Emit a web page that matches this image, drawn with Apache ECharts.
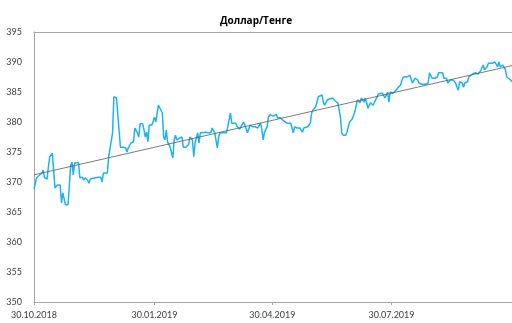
<!DOCTYPE html>
<html>
<head>
<meta charset="utf-8">
<script src="https://cdn.jsdelivr.net/npm/echarts@6/dist/echarts.min.js"></script>
<style>
  html, body { margin: 0; padding: 0; background: #fff; }
  #chart { width: 512px; height: 323px; }
</style>
</head>
<body>
<div id="chart"></div>
<script>
// USD/KZT daily rate, Oct 2018 – Oct 2019
const dates = [
  '2018-10-30','2018-11-01','2018-11-02','2018-11-05','2018-11-06','2018-11-07','2018-11-09','2018-11-10','2018-11-11','2018-11-13',
  '2018-11-14','2018-11-15','2018-11-17','2018-11-19','2018-11-20','2018-11-21','2018-11-23','2018-11-25','2018-11-27','2018-11-28',
  '2018-11-29','2018-11-30','2018-12-03','2018-12-04','2018-12-06','2018-12-07','2018-12-08','2018-12-10','2018-12-11','2018-12-12',
  '2018-12-13','2018-12-16','2018-12-18','2018-12-20','2018-12-21','2018-12-22','2018-12-23','2018-12-25','2018-12-26','2018-12-29',
  '2018-12-30','2019-01-01','2019-01-04','2019-01-06','2019-01-08','2019-01-09','2019-01-10','2019-01-12','2019-01-14','2019-01-15',
  '2019-01-17','2019-01-18','2019-01-19','2019-01-21','2019-01-22','2019-01-23','2019-01-24','2019-01-25','2019-01-26','2019-01-28',
  '2019-01-29','2019-01-30','2019-01-31','2019-02-02','2019-02-03','2019-02-05','2019-02-06','2019-02-07','2019-02-08','2019-02-09',
  '2019-02-10','2019-02-11','2019-02-13','2019-02-14','2019-02-15','2019-02-16','2019-02-18','2019-02-19','2019-02-20','2019-02-21',
  '2019-02-23','2019-02-25','2019-02-26','2019-02-28','2019-03-01','2019-03-02','2019-03-04','2019-03-05','2019-03-06','2019-03-07',
  '2019-03-10','2019-03-12','2019-03-14','2019-03-15','2019-03-16','2019-03-17','2019-03-19','2019-03-20','2019-03-21','2019-03-23',
  '2019-03-26','2019-03-27','2019-03-29','2019-03-30','2019-03-31','2019-04-02','2019-04-03','2019-04-05','2019-04-06','2019-04-08',
  '2019-04-09','2019-04-11','2019-04-12','2019-04-13','2019-04-15','2019-04-16','2019-04-17','2019-04-18','2019-04-19','2019-04-21',
  '2019-04-22','2019-04-23','2019-04-24','2019-04-26','2019-04-27','2019-04-28','2019-05-01','2019-05-03','2019-05-04','2019-05-06',
  '2019-05-08','2019-05-11','2019-05-14','2019-05-15','2019-05-16','2019-05-17','2019-05-19','2019-05-20','2019-05-21','2019-05-23',
  '2019-05-24','2019-05-25','2019-05-27','2019-05-28','2019-05-29','2019-05-30','2019-05-31','2019-06-02','2019-06-03','2019-06-04',
  '2019-06-05','2019-06-07','2019-06-08','2019-06-09','2019-06-11','2019-06-12','2019-06-15','2019-06-17','2019-06-19','2019-06-21',
  '2019-06-22','2019-06-23','2019-06-25','2019-06-26','2019-06-27','2019-06-28','2019-06-30','2019-07-01','2019-07-02','2019-07-04',
  '2019-07-05','2019-07-06','2019-07-07','2019-07-08','2019-07-09','2019-07-10','2019-07-11','2019-07-12','2019-07-14','2019-07-15',
  '2019-07-16','2019-07-17','2019-07-19','2019-07-20','2019-07-21','2019-07-23','2019-07-24','2019-07-25','2019-07-27','2019-07-28',
  '2019-07-29','2019-07-30','2019-07-31','2019-08-02','2019-08-03','2019-08-04','2019-08-06','2019-08-07','2019-08-08','2019-08-09',
  '2019-08-11','2019-08-12','2019-08-13','2019-08-15','2019-08-16','2019-08-17','2019-08-19','2019-08-20','2019-08-21','2019-08-22',
  '2019-08-23','2019-08-25','2019-08-26','2019-08-27','2019-08-28','2019-08-29','2019-08-30','2019-08-31','2019-09-01','2019-09-03',
  '2019-09-04','2019-09-05','2019-09-07','2019-09-08','2019-09-09','2019-09-10','2019-09-11','2019-09-13','2019-09-14','2019-09-15',
  '2019-09-17','2019-09-18','2019-09-19','2019-09-20','2019-09-22','2019-09-23','2019-09-24','2019-09-26','2019-09-27','2019-09-28',
  '2019-09-30','2019-10-01','2019-10-02','2019-10-03','2019-10-04','2019-10-06','2019-10-07','2019-10-08','2019-10-09','2019-10-11',
  '2019-10-12','2019-10-13','2019-10-15','2019-10-16','2019-10-17','2019-10-19','2019-10-20','2019-10-21','2019-10-22','2019-10-23',
  '2019-10-25','2019-10-26','2019-10-27','2019-10-29','2019-10-30'
];

const usdKzt = [
  368.8,370.7,370.8,371.5,372.0,370.7,370.5,372.5,374.2,374.8,
  375.0,369.0,369.5,369.5,366.5,368.2,366.2,366.2,372.8,373.3,
  371.2,373.2,373.2,370.7,370.8,370.3,370.7,370.3,369.8,370.5,
  370.2,370.7,370.8,370.8,370.0,371.5,371.2,371.5,374.2,378.2,
  384.2,384.0,375.8,375.8,375.7,375.0,375.7,376.5,376.7,379.0,
  378.2,377.5,379.7,379.7,378.7,377.5,378.3,376.7,379.5,379.5,
  379.8,380.8,380.0,382.8,382.8,381.5,377.5,377.0,378.7,376.7,
  377.0,375.8,374.0,377.0,377.8,377.0,377.3,377.0,377.5,375.8,
  375.8,376.2,377.5,377.0,374.2,376.5,378.2,376.5,378.2,378.3,
  378.3,378.2,378.2,379.0,379.0,378.2,375.7,377.5,378.2,378.2,
  378.2,378.3,381.5,379.8,379.5,379.8,379.3,378.8,379.2,380.0,
  379.5,378.2,378.3,379.5,379.2,379.0,379.2,379.5,379.0,379.8,
  378.7,377.0,378.3,379.2,380.8,381.2,381.0,381.3,380.7,380.7,
  380.3,379.8,379.8,380.0,378.2,379.2,379.0,378.7,379.0,378.3,
  379.0,378.7,379.2,379.2,379.8,381.5,382.0,382.5,383.2,384.2,
  384.2,384.5,383.2,382.8,383.7,384.0,384.0,383.5,383.2,380.8,
  378.2,377.8,377.8,378.3,379.2,380.0,380.5,380.8,381.7,383.7,
  384.0,383.2,384.0,384.0,383.3,384.0,383.2,382.3,383.2,383.3,
  382.8,383.3,384.2,384.7,384.5,384.8,384.5,384.0,385.0,383.3,
  385.0,385.0,384.8,385.2,385.3,385.7,386.2,387.0,387.5,387.8,
  387.5,387.5,387.8,386.5,386.7,387.3,387.0,386.5,386.2,386.3,
  386.2,386.3,386.5,386.5,388.2,388.3,387.3,387.5,387.3,387.5,
  388.2,388.3,388.2,387.3,387.3,387.3,386.5,387.0,386.7,387.0,
  386.5,385.8,385.3,386.7,386.5,385.8,386.5,386.7,387.5,387.8,
  388.0,388.2,388.2,388.3,388.0,388.5,389.0,389.5,388.7,389.2,
  389.8,389.5,389.8,390.0,390.0,389.2,390.0,389.2,389.2,389.5,
  388.7,387.5,387.5,387.0,386.7
];

const axisStart = '2018-10-30';
const axisEnd = '2019-10-30';
const tickDates = ['2018-10-30', '2019-01-30', '2019-04-30', '2019-07-30'];
const yTicks = { min: 350, max: 395, step: 5 };

const toTime = s => new Date(s + 'T00:00:00').getTime();
const pad = n => (n < 10 ? '0' : '') + n;
const fmtDate = v => {
  const d = new Date(v);
  return pad(d.getDate()) + '.' + pad(d.getMonth() + 1) + '.' + d.getFullYear();
};

const points = dates.map((d, i) => [toTime(d), usdKzt[i]]);

// least-squares linear trend over the whole series
const DAY = 86400000;
const t0 = toTime(axisStart);
const tEnd = toTime(axisEnd);
const xs = points.map(p => (p[0] - t0) / DAY);
const ys = points.map(p => p[1]);
const n = xs.length;
const mx = xs.reduce((a, b) => a + b, 0) / n;
const my = ys.reduce((a, b) => a + b, 0) / n;
let sxy = 0, sxx = 0;
for (let i = 0; i < n; i++) { sxy += (xs[i] - mx) * (ys[i] - my); sxx += (xs[i] - mx) ** 2; }
const slope = sxy / sxx;
const icpt = my - slope * mx;
const trend = [
  [t0, icpt],
  [tEnd, icpt + slope * (tEnd - t0) / DAY]
];

const chart = echarts.init(document.getElementById('chart'), null, { renderer: 'canvas' });
const axisGray = '#a6a6a6';
const labelFont = { fontFamily: 'Lato, "Open Sans", sans-serif', fontSize: 9, color: '#404040' };
const tickTimes = tickDates.map(toTime);

chart.setOption({
  animation: false,
  backgroundColor: '#ffffff',
  title: {
    text: 'Доллар/Тенге',
    left: 'center',
    top: 11,
    textStyle: { fontFamily: '"Open Sans", sans-serif', fontWeight: 'bold', fontSize: 10, color: '#000' }
  },
  grid: { left: 34, right: 0, top: 32, bottom: 21 },
  xAxis: [
    {
      type: 'value',
      min: t0,
      max: tEnd,
      scale: true,
      axisLine: { lineStyle: { color: axisGray, width: 1 } },
      axisTick: { show: true, length: 3, lineStyle: { color: axisGray }, customValues: tickTimes },
      axisLabel: Object.assign({ margin: 9, customValues: tickTimes, formatter: v => fmtDate(v), hideOverlap: false, showMinLabel: true }, labelFont),
      splitLine: { show: false }
    },
    {
      type: 'value',
      position: 'top',
      min: t0,
      max: tEnd,
      axisLine: { show: true, lineStyle: { color: axisGray, width: 1 } },
      axisTick: { show: false },
      axisLabel: { show: false },
      splitLine: { show: false }
    }
  ],
  yAxis: {
    type: 'value',
    min: yTicks.min,
    max: yTicks.max,
    interval: yTicks.step,
    axisLine: { show: true, lineStyle: { color: axisGray, width: 1 } },
    axisTick: { show: false },
    axisLabel: Object.assign({ margin: 12 }, labelFont),
    splitLine: { show: false }
  },
  series: [
    {
      name: 'Доллар/Тенге',
      type: 'line',
      data: points,
      showSymbol: false,
      lineStyle: { color: '#1cb4ef', width: 1.5 },
      z: 2
    },
    {
      name: 'Линейный тренд',
      type: 'line',
      data: trend,
      showSymbol: false,
      lineStyle: { color: '#5a5a5a', width: 0.8 },
      z: 3
    }
  ]
});
</script>
</body>
</html>
